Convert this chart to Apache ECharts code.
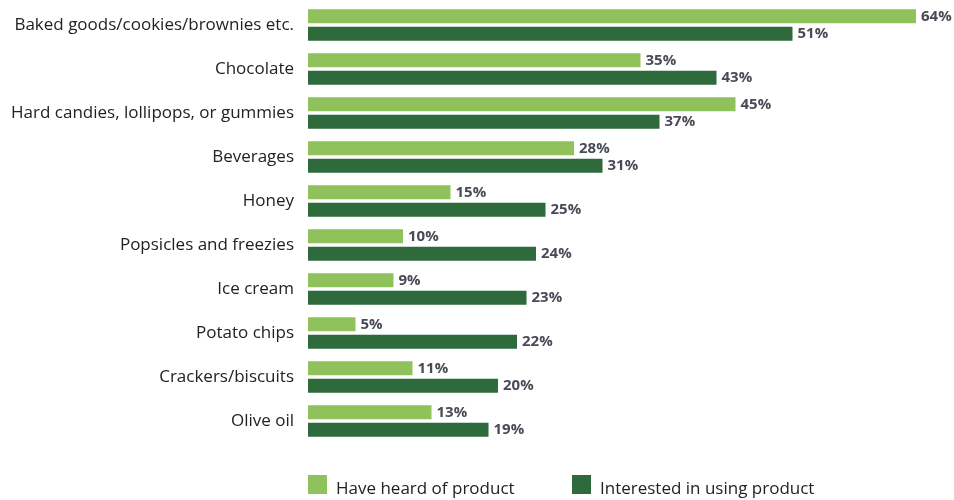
<!DOCTYPE html>
<html>
<head>
<meta charset="utf-8">
<script src="https://cdn.jsdelivr.net/npm/echarts@6/dist/echarts.min.js"></script>
<style>html,body{margin:0;padding:0;background:#fff}#c{width:954px;height:500px}</style>
</head>
<body>
<div id="c"></div>
<script>
const categories = ["Baked goods/cookies/brownies etc.", "Chocolate", "Hard candies, lollipops, or gummies", "Beverages", "Honey", "Popsicles and freezies", "Ice cream", "Potato chips", "Crackers/biscuits", "Olive oil"];
const heardOf = [64, 35, 45, 28, 15, 10, 9, 5, 11, 13];
const interested = [51, 43, 37, 31, 25, 24, 23, 22, 20, 19];
const seriesNames = ["Have heard of product", "Interested in using product"];

const chart = echarts.init(document.getElementById('c'), null, {renderer: 'canvas'});
const labelStyle = {show: true, position: 'right', distance: 5, formatter: '{c}%', fontFamily: 'Open Sans', fontWeight: 'bold', fontSize: 15, color: '#4a4a56'};
const legendText = {fontFamily: 'Open Sans', fontSize: 17, color: '#222',
  rich: {a: {fontFamily: 'Open Sans', fontSize: 17, color: '#222', padding: [10, 0, 0, 4]}}};
chart.setOption({
  animation: false,
  textStyle: {fontFamily: 'Open Sans'},
  grid: {left: 308, right: 0, top: 3, height: 440},
  xAxis: {type: 'value', min: 0, max: 68, show: false},
  yAxis: {type: 'category', data: categories, inverse: true,
    axisLine: {show: false}, axisTick: {show: false},
    axisLabel: {fontFamily: 'Open Sans', fontSize: 17, color: '#222', margin: 14}},
  legend: [
    {data: [seriesNames[0]], left: 308, top: 475, padding: 0, itemWidth: 19, itemHeight: 19, icon: 'rect',
     formatter: '{a|{name}}', textStyle: legendText},
    {data: [seriesNames[1]], left: 572, top: 475, padding: 0, itemWidth: 19, itemHeight: 19, icon: 'rect',
     formatter: '{a|{name}}', textStyle: legendText}
  ],
  series: [
    {name: seriesNames[0], type: 'bar', data: heardOf, barWidth: 14, barGap: '25%', itemStyle: {color: '#8fc25a'}, label: labelStyle},
    {name: seriesNames[1], type: 'bar', data: interested, barWidth: 14, barGap: '25%', itemStyle: {color: '#2e6a3c'}, label: labelStyle}
  ]
});
</script>
</body>
</html>
